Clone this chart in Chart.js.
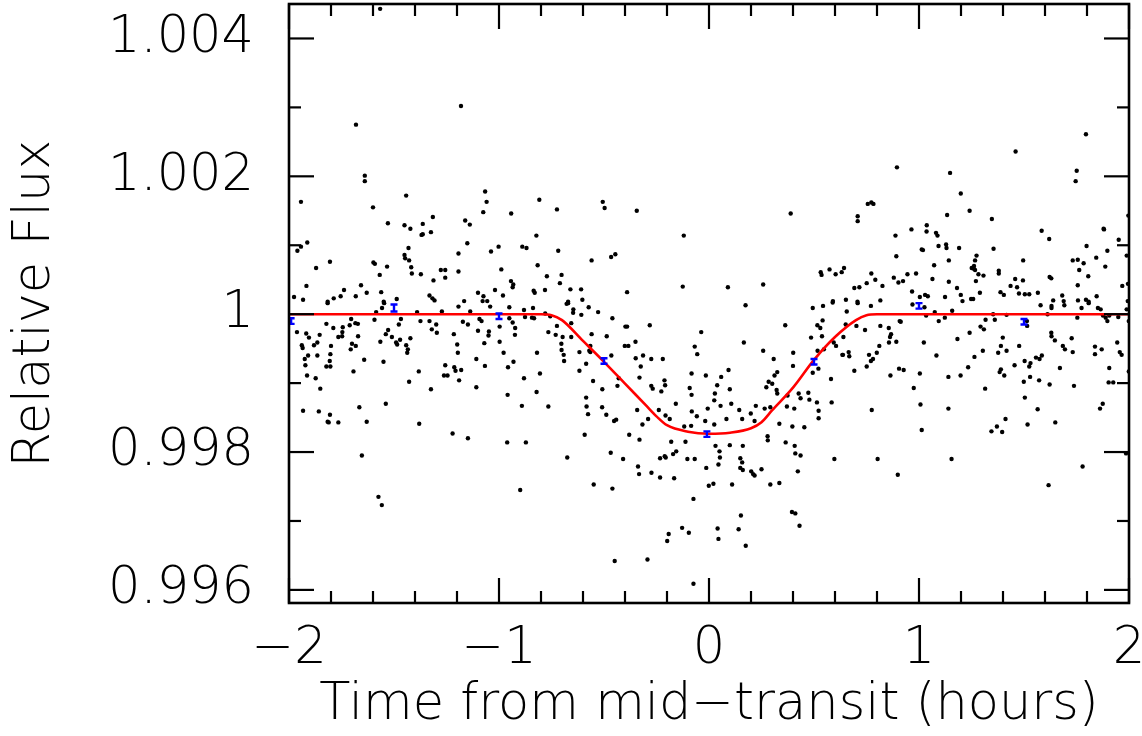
<!DOCTYPE html>
<html>
<head>
<meta charset="utf-8">
<script src="https://cdn.jsdelivr.net/npm/chart.js@4.4.0/dist/chart.umd.min.js"></script>
<style>
html,body{margin:0;padding:0;background:#fff;}
#wrap{width:1142px;height:736px;}
</style>
</head>
<body>
<div id="wrap"><canvas id="c" width="1142" height="736"></canvas></div>
<script>
// ---- DATA ----
// Unbinned photometry: [time from mid-transit (h), relative flux]
const observations = [
[-1.566,1.00443],[-1.181,1.00302],[-1.681,1.00275],[-1.639,1.00201],[-1.639,1.00193],[-1.943,1.00163],[-1.442,1.00172],
[-1.066,1.00178],[-1.059,1.00163],[-1.075,1.00148],[-1.600,1.00155],[-1.529,1.00132],[-1.450,1.00129],[-1.422,1.00124],
[-1.363,1.00131],[-1.315,1.00141],[-1.324,1.00119],[-1.363,1.00116],[-1.369,1.00115],[-1.161,1.00136],[-1.139,1.00130],
[-1.151,1.00103],[-1.943,1.00098],[-1.960,1.00092],[-1.913,1.00104],[-1.805,1.00076],[-1.871,1.00067],[-1.917,1.00041],
[-1.598,1.00075],[-1.591,1.00073],[-1.533,1.00069],[-1.568,1.00057],[-1.450,1.00086],[-1.447,1.00081],[-1.428,1.00078],
[-1.431,1.00096],[-1.418,1.00068],[-1.415,1.00059],[-1.372,1.00058],[-1.312,1.00049],[-1.277,1.00064],[-1.256,1.00064],
[-1.256,1.00053],[-1.193,1.00088],[-1.193,1.00062],[-1.038,1.00091],[-1.002,1.00098],[-1.019,1.00035],[-1.100,1.00031],
[-1.074,1.00026],[-1.166,1.00019],[-1.078,1.00019],[-1.056,1.00019],[-1.976,1.00025],[-1.933,1.00021],[-1.816,1.00018],
[-1.787,1.00023],[-1.754,1.00026],[-1.738,1.00035],[-1.682,1.00026],[-1.657,1.00042],[-1.630,1.00031],[-1.561,1.00032],
[-1.549,1.00018],[-1.487,1.00022],[-1.331,1.00027],[-1.317,1.00023],[-1.307,1.00020],
[-0.808,1.00166],[-0.724,1.00152],[-0.942,1.00146],[-0.506,1.00163],[-0.497,1.00154],[-0.344,1.00150],[-0.120,1.00114],
[-0.822,1.00114],[-0.889,1.00098],[-0.869,1.00096],[-0.718,1.00092],[-0.989,1.00065],[-0.816,1.00071],[-0.559,1.00078],
[-0.466,1.00083],[-0.446,1.00087],[-0.772,1.00055],[-0.702,1.00057],[-0.710,1.00045],[-0.943,1.00048],[-0.932,1.00043],
[-0.935,1.00039],[-0.981,1.00027],[-0.835,1.00034],[-0.830,1.00031],[-0.781,1.00035],[-0.660,1.00036],[-0.609,1.00036],
[-0.603,1.00021],[-0.671,1.00018],[-0.390,1.00032],[-0.125,1.00040],
[0.895,1.00213],[0.389,1.00146],[0.708,1.00142],[0.708,1.00135],[0.756,1.00160],[0.773,1.00162],[0.783,1.00160],
[0.888,1.00114],[0.964,1.00123],[0.892,1.00084],[0.090,1.00039],[0.258,1.00043],[0.532,1.00061],[0.536,1.00057],
[0.574,1.00065],[0.603,1.00058],[0.632,1.00061],[0.643,1.00067],[0.773,1.00059],[0.792,1.00050],[0.751,1.00045],
[0.716,1.00039],[0.692,1.00038],[0.826,1.00041],[0.880,1.00053],[0.902,1.00046],[0.924,1.00048],[0.945,1.00058],
[0.986,1.00059],[0.967,1.00033],[1.004,1.00025],[0.590,1.00019],[0.652,1.00021],[0.816,1.00020],[0.707,1.00018],
[1.795,1.00261],[1.460,1.00236],[1.751,1.00208],[1.746,1.00193],[1.148,1.00205],[1.199,1.00175],[1.241,1.00150],
[1.134,1.00144],[1.347,1.00138],[1.997,1.00143],[1.037,1.00129],[1.036,1.00120],[1.081,1.00118],[1.088,1.00114],
[1.013,1.00094],[1.019,1.00093],[1.093,1.00099],[1.129,1.00101],[1.131,1.00096],[1.191,1.00096],[1.355,1.00095],
[1.584,1.00121],[1.620,1.00109],[1.879,1.00124],[1.881,1.00123],[1.951,1.00108],[1.798,1.00099],[1.897,1.00092],
[1.844,1.00082],[1.887,1.00069],[1.274,1.00085],[1.267,1.00078],[1.262,1.00070],[1.251,1.00067],[1.261,1.00066],
[1.267,1.00064],[1.283,1.00058],[1.307,1.00056],[1.271,1.00048],[1.142,1.00078],[1.072,1.00071],[1.064,1.00051],
[1.142,1.00047],[1.181,1.00038],[1.199,1.00028],[1.124,1.00025],[1.029,1.00028],[1.042,1.00026],[1.290,1.00031],
[1.248,1.00022],[1.258,1.00022],[1.207,1.00019],[1.380,1.00063],[1.380,1.00059],[1.388,1.00032],[1.404,1.00028],
[1.436,1.00041],[1.458,1.00051],[1.467,1.00039],[1.476,1.00030],[1.496,1.00078],[1.495,1.00049],[1.504,1.00029],
[1.525,1.00029],[1.566,1.00031],[1.622,1.00054],[1.630,1.00052],[1.682,1.00027],[1.639,1.00020],[1.689,1.00019],
[1.732,1.00078],[1.756,1.00079],[1.784,1.00074],[1.763,1.00064],[1.806,1.00055],[1.756,1.00042],[1.846,1.00026],
[1.757,1.00020],[1.795,1.00021],[1.808,1.00018],[1.989,1.00085],[1.968,1.00041],[1.995,1.00044],[1.994,1.00019],
[-1.816,1.00016],[-1.962,0.99974],[-1.918,0.99972],[-1.905,0.99966],[-1.854,0.99970],[-1.865,0.99959],[-1.881,0.99955],
[-1.939,0.99955],[-1.935,0.99951],[-1.909,0.99940],[-1.925,0.99935],[-1.922,0.99926],[-1.865,0.99940],[-1.914,0.99911],
[-1.873,0.99907],[-1.851,0.99892],[-1.933,0.99860],[-1.858,0.99859],[-1.822,0.99986],[-1.789,0.99980],[-1.800,0.99954],
[-1.803,0.99942],[-1.806,0.99932],[-1.822,0.99924],[-1.803,0.99924],[-1.805,0.99854],[-1.816,0.99844],[-1.811,0.99843],
[-1.765,0.99843],[-1.765,0.99967],[-1.747,0.99968],[-1.746,0.99974],[-1.744,0.99981],[-1.711,0.99984],[-1.704,0.99993],
[-1.684,0.99987],[-1.672,0.99986],[-1.671,0.99968],[-1.706,0.99949],[-1.700,0.99957],[-1.682,0.99954],[-1.693,0.99917],
[-1.642,0.99934],[-1.665,0.99865],[-1.630,0.99844],[-1.653,0.99795],[-1.574,0.99735],[-1.558,0.99723],
[-1.593,0.99992],[-1.585,1.00003],[-1.557,1.00009],[-1.547,1.00016],[-1.565,0.99960],[-1.550,0.99931],[-1.539,0.99971],
[-1.528,0.99977],[-1.510,0.99967],[-1.490,0.99959],[-1.485,0.99956],[-1.477,0.99985],[-1.471,0.99963],[-1.467,0.99993],
[-1.442,0.99955],[-1.434,0.99949],[-1.437,0.99944],[-1.422,0.99965],[-1.428,0.99902],[-1.539,0.99870],[-1.382,0.99917],
[-1.380,0.99841],[-1.390,1.00003],[-1.374,0.99990],[-1.331,0.99990],[-1.320,0.99978],[-1.299,0.99985],[-1.296,0.99973],
[-1.324,0.99891],[-1.272,1.00004],[-1.256,0.99926],[-1.245,0.99911],[-1.262,0.99911],[-1.215,0.99971],[-1.199,0.99956],
[-1.196,0.99944],[-1.213,0.99923],[-1.207,0.99918],[-1.180,0.99919],[-1.190,0.99904],[-1.221,0.99827],[-1.148,0.99820],
[-1.193,1.00011],[-1.172,0.99989],[-1.148,0.99985],[-1.137,1.00004],[-1.108,0.99935],[-1.100,0.99976],[-1.093,0.99993],
[-1.083,0.99990],[-1.070,0.99958],[-1.067,0.99925],[-1.108,0.99894],[-1.048,0.99975],[-1.050,0.99969],[-1.042,1.00011],
[-0.997,0.99982],[-0.997,0.99960],
[-0.978,0.99944],[-0.957,0.99923],[-0.931,0.99931],[-0.959,0.99883],[-0.961,0.99814],[-0.872,0.99814],[-0.891,0.99867],
[-0.899,0.99745],[-0.881,0.99907],[-0.951,1.00010],[-0.951,0.99994],[-0.935,0.99988],[-0.923,0.99980],[-0.924,0.99970],
[-0.881,1.00006],[-0.876,0.99996],[-0.838,1.00009],[-0.833,0.99994],[-0.843,0.99995],[-0.819,0.99944],[-0.805,0.99914],
[-0.821,0.99887],[-0.765,0.99866],[-0.765,0.99974],[-0.780,1.00001],[-0.756,0.99997],[-0.724,0.99983],[-0.730,0.99970],
[-0.703,0.99957],[-0.697,0.99967],[-0.702,0.99948],[-0.692,0.99941],[-0.690,0.99932],[-0.678,1.00015],[-0.671,1.00016],
[-0.646,1.00007],[-0.647,1.00002],[-0.656,0.99987],[-0.656,0.99967],[-0.608,0.99999],[-0.573,1.00010],[-0.528,1.00003],
[-0.675,0.99792],[-0.617,0.99945],[-0.617,0.99918],[-0.585,0.99928],[-0.592,0.99825],[-0.585,0.99879],[-0.583,0.99866],
[-0.576,0.99855],[-0.570,0.99947],[-0.565,0.99954],[-0.565,0.99945],[-0.559,0.99971],[-0.552,0.99903],[-0.549,0.99753],
[-0.508,0.99891],[-0.509,0.99865],[-0.489,0.99854],[-0.465,0.99940],[-0.487,0.99968],[-0.460,0.99994],[-0.468,0.99799],
[-0.460,0.99747],[-0.449,0.99642],[-0.452,0.99845],[-0.442,0.99847],[-0.436,0.99896],[-0.430,0.99907],
[-0.409,0.99790],[-0.398,0.99982],[-0.390,0.99982],[-0.401,0.99954],[-0.384,0.99954],[-0.380,0.99825],[-0.350,0.99960],
[-0.349,0.99936],[-0.342,0.99861],[-0.331,0.99908],[-0.325,0.99924],[-0.331,0.99818],[-0.314,0.99940],[-0.317,0.99840],
[-0.282,0.99984],[-0.275,0.99935],[-0.275,0.99896],[-0.268,0.99892],[-0.290,0.99848],[-0.293,0.99644],[-0.338,0.99779],
[-0.333,0.99768],[-0.239,0.99861],[-0.227,0.99888],[-0.220,0.99935],[-0.212,0.99904],[-0.209,0.99897],[-0.207,0.99853],
[-0.187,0.99848],[-0.158,0.99870],[-0.233,0.99791],[-0.211,0.99794],[-0.206,0.99792],[-0.233,0.99763],[-0.180,0.99815],
[-0.171,0.99797],[-0.156,0.99801],[-0.166,0.99762],[-0.274,0.99770],[-0.199,0.99671],[-0.192,0.99681],
[-0.128,0.99690],[-0.096,0.99683],[-0.074,0.99732],[-0.074,0.99609],[-0.118,0.99837],[-0.112,0.99815],[-0.103,0.99790],
[-0.068,0.99790],[-0.085,0.99838],[-0.082,0.99859],[-0.058,0.99852],[-0.083,0.99883],[-0.092,0.99893],[-0.083,0.99914],
[-0.068,0.99953],[-0.056,0.99942],[-0.037,0.99974],[-0.015,0.99911],[-0.006,0.99863],[-0.018,0.99845],[-0.013,0.99777],
[-0.001,0.99751],
[0.174,1.00013],[0.166,0.99959],[0.039,0.99897],[0.058,0.99909],[0.093,0.99919],[0.028,0.99885],[0.025,0.99875],
[0.055,0.99867],[0.099,0.99891],[0.106,0.99870],[0.083,0.99848],[0.025,0.99840],[0.031,0.99809],[0.050,0.99801],
[0.052,0.99792],[0.045,0.99782],[0.099,0.99810],[0.144,0.99861],[0.158,0.99848],[0.161,0.99809],[0.149,0.99791],
[0.158,0.99785],[0.149,0.99777],[0.161,0.99774],[0.021,0.99754],[0.110,0.99753],[0.041,0.99689],[0.045,0.99674],
[0.141,0.99688],[0.152,0.99708],[0.175,0.99664],[0.199,0.99856],[0.223,0.99867],[0.217,0.99845],[0.201,0.99772],
[0.217,0.99766],[0.210,0.99768],[0.250,0.99775],[0.258,0.99947],[0.308,0.99935],[0.273,0.99894],[0.284,0.99902],
[0.301,0.99899],[0.312,0.99911],[0.325,0.99916],[0.322,0.99890],[0.325,0.99885],[0.265,0.99863],[0.292,0.99865],
[0.279,0.99823],[0.280,0.99817],[0.335,0.99841],[0.365,0.99814],[0.292,0.99753],[0.335,0.99755],[0.363,0.99984],
[0.401,0.99944],[0.400,0.99925],[0.374,0.99882],[0.371,0.99866],[0.406,0.99863],[0.397,0.99837],[0.408,0.99809],
[0.411,0.99798],[0.436,0.99795],[0.423,0.99772],[0.395,0.99713],[0.411,0.99711],[0.431,0.99693],[0.454,0.99836],
[0.427,0.99885],[0.436,0.99878],[0.473,0.99886],[0.478,0.99876],
[0.486,0.99966],[0.494,1.00009],[0.516,0.99984],[0.530,0.99980],[0.541,0.99991],[0.543,1.00012],[0.538,0.99968],
[0.517,0.99947],[0.521,0.99921],[0.494,0.99915],[0.514,0.99872],[0.522,0.99860],[0.522,0.99849],[0.547,0.99949],
[0.581,0.99906],[0.584,0.99872],[0.597,0.99790],[0.605,0.99954],[0.594,0.99959],[0.589,1.00017],[0.635,0.99941],
[0.638,0.99941],[0.640,0.99967],[0.651,0.99985],[0.656,1.00004],[0.665,0.99945],[0.668,0.99939],[0.692,0.99918],
[0.702,0.99983],[0.708,1.00016],[0.743,0.99977],[0.751,0.99924],[0.762,0.99941],[0.771,0.99932],[0.781,0.99935],
[0.771,1.00012],[0.775,0.99861],[0.799,0.99944],[0.811,0.99954],[0.816,0.99983],[0.856,0.99980],[0.862,0.99967],
[0.867,0.99971],[0.857,0.99959],[0.892,0.99960],[0.908,0.99990],[0.913,0.99989],[0.864,0.99911],[0.905,0.99921],
[0.927,0.99919],[0.803,0.99790],[0.899,0.99767],[0.975,0.99893],[0.969,1.00014],
[1.026,1.00010],[1.034,0.99998],[1.075,1.00003],[1.094,0.99990],[1.123,0.99995],[1.158,1.00005],[1.023,0.99959],
[1.083,0.99940],[1.004,0.99914],[1.007,0.99869],[1.013,0.99832],[1.140,0.99909],[1.140,0.99863],[1.155,0.99790],
[1.183,0.99964],[1.198,0.99911],[1.234,0.99923],[1.241,0.99973],[1.264,0.99938],[1.293,0.99982],[1.304,0.99947],
[1.309,0.99978],[1.317,0.99992],[1.315,0.99892],[1.353,1.00000],[1.361,0.99992],[1.345,0.99830],[1.371,0.99837],
[1.377,0.99944],[1.384,0.99916],[1.390,0.99920],[1.390,0.99954],[1.399,0.99966],[1.406,0.99911],[1.417,0.99947],
[1.417,0.99999],[1.396,0.99829],[1.412,0.99848],[1.455,0.99926],[1.477,0.99954],[1.499,0.99902],[1.504,0.99879],
[1.503,0.99932],[1.517,0.99840],[1.514,0.99990],[1.515,0.99983],[1.525,0.99924],[1.531,0.99929],[1.529,0.99909],
[1.557,0.99937],[1.565,0.99862],[1.574,0.99935],[1.585,0.99940],[1.572,0.99904],[1.579,1.00013],[1.612,1.00000],
[1.622,0.99898],[1.630,0.99973],[1.631,0.99968],[1.631,1.00012],[1.631,1.00009],[1.647,0.99962],[1.649,0.99843],
[1.617,0.99752],[1.671,0.99922],[1.685,0.99954],[1.695,0.99949],[1.692,1.00013],[1.727,0.99965],[1.732,0.99945],
[1.738,0.99896],[1.754,0.99995],[1.774,1.00009],[1.779,0.99779],[1.808,1.00016],[1.838,0.99953],[1.838,0.99942],
[1.852,1.00009],[1.870,0.99949],[1.862,0.99863],[1.875,0.99870],[1.865,1.00007],[1.876,0.99998],[1.889,0.99995],
[1.897,0.99990],[1.906,0.99998],[1.906,0.99922],[1.903,0.99901],[1.925,0.99901],[1.944,0.99959],[1.956,0.99945],
[1.965,0.99941],[1.949,0.99996],[1.989,1.00007],[1.999,0.99990],[1.999,0.99917],[1.986,0.99798]
];

// Transit model curve (red)
const modelTime = [-2.0,-0.80,-0.75,-0.70,-0.60,-0.50,-0.40,-0.30,-0.25,-0.20,-0.10,0.0,0.10,0.20,0.25,0.30,0.40,0.50,0.60,0.70,0.75,0.80,2.0];
const modelFlux = [1.0,1.0,0.999986,0.999914,0.999612,0.999309,0.998993,0.998676,0.998518,0.998389,0.998295,0.998266,0.998281,0.998345,0.998432,0.998604,0.998935,0.999338,0.999669,0.999914,0.999986,1.0,1.0];

// Binned points with error bars (blue)
const binTime = [-1.99,-1.5,-1.0,-0.5,-0.01,0.5,1.0,1.5];
const binFlux = [0.99990,1.00009,0.99997,0.99932,0.99826,0.99931,1.00012,0.99989];
const binErr  = [0.00004,0.00005,0.00004,0.00004,0.00004,0.00004,0.00004,0.00004];

// Axis ticks
const xMajorTicks = [-2,-1,0,1,2];
const xMinorTicks = [-1.8,-1.6,-1.4,-1.2,-0.8,-0.6,-0.4,-0.2,0.2,0.4,0.6,0.8,1.2,1.4,1.6,1.8];
const yMajorTicks = [0.996,0.998,1.000,1.002,1.004];
const yMinorTicks = [0.997,0.999,1.001,1.003];
const xRange = [-2, 2];
const yRange = [0.99581, 1.0045];

// ---- CHART ----
const FONT = {family:'"DejaVu Sans", sans-serif', size:51, weight:200};

const framePlugin = {
  id:'frameTicks',
  afterDraw(chart){
    const {ctx, chartArea:a, scales:{x, y}} = chart;
    ctx.save();
    ctx.strokeStyle = '#000';
    ctx.lineCap = 'butt';
    const tick = (px, py, dx, dy) => { ctx.beginPath(); ctx.moveTo(px,py); ctx.lineTo(px+dx,py+dy); ctx.stroke(); };
    ctx.lineWidth = 2.2;
    xMajorTicks.forEach(v => { const p = x.getPixelForValue(v); tick(p,a.bottom,0,-25); tick(p,a.top,0,25); });
    xMinorTicks.forEach(v => { const p = x.getPixelForValue(v); tick(p,a.bottom,0,-12); tick(p,a.top,0,12); });
    yMajorTicks.forEach(v => { const p = y.getPixelForValue(v); tick(a.left,p,25,0); tick(a.right,p,-25,0); });
    yMinorTicks.forEach(v => { const p = y.getPixelForValue(v); tick(a.left,p,12,0); tick(a.right,p,-12,0); });
    ctx.lineWidth = 2.6;
    ctx.strokeRect(a.left, a.top, a.right-a.left, a.bottom-a.top);
    ctx.restore();
  }
};

const errorBarPlugin = {
  id:'errorBars',
  afterDatasetsDraw(chart){
    const {ctx, scales:{x, y}, chartArea:a} = chart;
    ctx.save();
    ctx.beginPath(); ctx.rect(a.left, a.top, a.right-a.left, a.bottom-a.top); ctx.clip();
    ctx.strokeStyle = '#0000ff';
    ctx.lineWidth = 2.4;
    binTime.forEach((t,i) => {
      const px = x.getPixelForValue(t);
      const y1 = y.getPixelForValue(binFlux[i]+binErr[i]);
      const y0 = y.getPixelForValue(binFlux[i]-binErr[i]);
      ctx.beginPath();
      ctx.moveTo(px,y1); ctx.lineTo(px,y0);
      ctx.moveTo(px-3.5,y1); ctx.lineTo(px+3.5,y1);
      ctx.moveTo(px-3.5,y0); ctx.lineTo(px+3.5,y0);
      ctx.stroke();
    });
    ctx.restore();
  }
};

const fmtX = v => (v < 0 ? '\u2212' + Math.abs(v) : String(v));
const fmtY = v => (Math.abs(v-1) < 1e-9 ? '1' : v.toFixed(3));

new Chart(document.getElementById('c'), {
  data: {
    datasets: [
      {
        type:'line',
        label:'model',
        data: modelTime.map((t,i)=>({x:t, y:modelFlux[i]})),
        borderColor:'#ff0000',
        borderWidth:2.6,
        pointRadius:0,
        fill:false,
        cubicInterpolationMode:'monotone',
        order:1
      },
      {
        type:'scatter',
        label:'data',
        data: observations.map(p=>({x:p[0], y:p[1]})),
        backgroundColor:'#000',
        borderColor:'#000',
        borderWidth:0,
        pointRadius:2.2,
        order:2
      }
    ]
  },
  options: {
    responsive:false,
    animation:false,
    layout:{padding:{left:0, right:13, top:2, bottom:0}},
    plugins:{legend:{display:false}, tooltip:{enabled:false}},
    scales:{
      x:{
        type:'linear', min:xRange[0], max:xRange[1],
        grid:{display:false, drawTicks:false},
        border:{display:false},
        ticks:{stepSize:1, color:'#000', font:FONT, padding:16, maxRotation:0, callback:fmtX},
        title:{display:true, text:'Time from mid\u2212transit (hours)', color:'#000', font:FONT, padding:{top:0,bottom:0}},
        afterFit(s){ s.height = 133; s.paddingRight = 0; s.paddingLeft = 0; }
      },
      y:{
        type:'linear', min:yRange[0], max:yRange[1],
        grid:{display:false, drawTicks:false},
        border:{display:false},
        ticks:{stepSize:0.002, includeBounds:false, color:'#000', font:FONT, padding:35, callback:fmtY},
        title:{display:true, text:'Relative Flux', color:'#000', font:FONT, padding:{top:5,bottom:0}},
        afterFit(s){ s.width = 289; s.paddingTop = 0; s.paddingBottom = 0; }
      }
    }
  },
  plugins:[framePlugin, errorBarPlugin]
});
</script>
</body>
</html>
